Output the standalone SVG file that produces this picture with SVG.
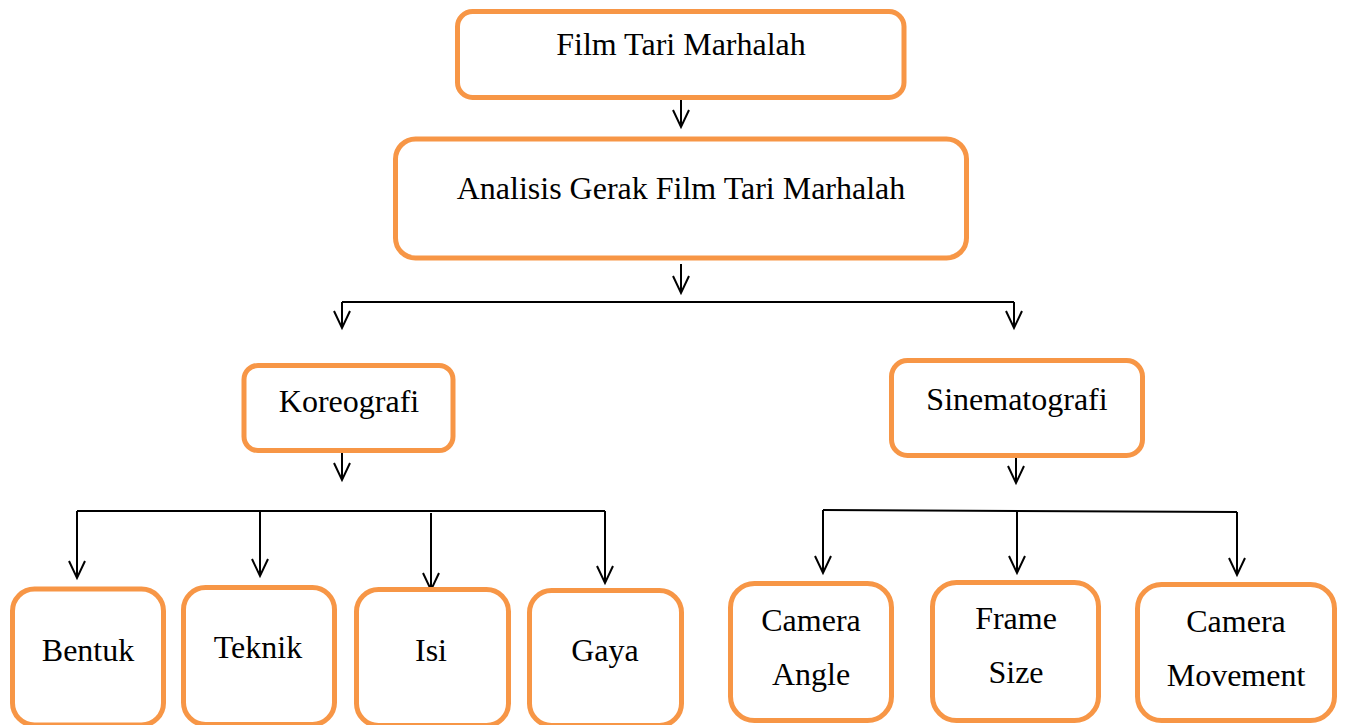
<svg xmlns="http://www.w3.org/2000/svg" width="1345" height="725" viewBox="0 0 1345 725">
<style>
.box{fill:#ffffff;stroke:#F79646;stroke-width:5}
.lbl{font-family:"Liberation Serif","Times New Roman",serif;font-size:32px;fill:#000;text-anchor:middle}
.con{fill:none;stroke:#000;stroke-width:2}
.arr{fill:none;stroke:#000;stroke-width:2;marker-end:url(#ah)}
</style>
<defs>
<marker id="ah" viewBox="-20 -10 22 20" refX="0" refY="0" markerWidth="22" markerHeight="20" markerUnits="userSpaceOnUse" orient="auto" overflow="visible">
<path d="M-17,-8 L0,0 L-17,8" fill="none" stroke="#000" stroke-width="2"/>
</marker>
</defs>
<rect width="1345" height="725" fill="#fff"/>
<g id="connectors">
<path class="arr" d="M681,100 V127"/>
<path class="arr" d="M681,264 V293"/>
<path class="con" d="M342,302 H1014"/>
<path class="arr" d="M342,302 V328"/>
<path class="arr" d="M1014,302 V328"/>
<path class="arr" d="M342,453 V480"/>
<path class="con" d="M77,511 H605"/>
<path class="arr" d="M77,511 V578"/>
<path class="arr" d="M260,511 V576"/>
<path class="arr" d="M431,513 V590"/>
<path class="arr" d="M605,511 V583"/>
<path class="arr" d="M1016,458 V483"/>
<path class="con" d="M823,510 L1237,512"/>
<path class="arr" d="M823,510 V573"/>
<path class="arr" d="M1017,511 V573"/>
<path class="arr" d="M1237,512 V575"/>
</g>
<g id="film">
<rect class="box" x="457.5" y="11.5" width="446.5" height="86" rx="15"/>
<text class="lbl" x="681" y="55">Film Tari Marhalah</text>
</g>
<g id="analisis">
<rect class="box" x="395.5" y="139" width="571" height="119" rx="20"/>
<text class="lbl" x="681" y="199">Analisis Gerak Film Tari Marhalah</text>
</g>
<g id="koreografi">
<rect class="box" x="244" y="365.5" width="209" height="85" rx="14"/>
<text class="lbl" x="349" y="412">Koreografi</text>
</g>
<g id="sinematografi">
<rect class="box" x="891.5" y="360.5" width="251" height="95" rx="16"/>
<text class="lbl" x="1017" y="410">Sinematografi</text>
</g>
<g id="bentuk">
<rect class="box" x="12.5" y="589" width="151" height="136" rx="22"/>
<text class="lbl" x="88" y="661">Bentuk</text>
</g>
<g id="teknik">
<rect class="box" x="183.5" y="587.5" width="151" height="137" rx="22"/>
<text class="lbl" x="258" y="658">Teknik</text>
</g>
<g id="isi">
<rect class="box" x="356.5" y="589.5" width="152" height="136" rx="22"/>
<text class="lbl" x="431" y="661">Isi</text>
</g>
<g id="gaya">
<rect class="box" x="529.5" y="590.5" width="152" height="135" rx="22"/>
<text class="lbl" x="605" y="661">Gaya</text>
</g>
<g id="camera-angle">
<rect class="box" x="730.5" y="583.5" width="161" height="137" rx="24"/>
<text class="lbl" x="811" y="631">Camera</text>
<text class="lbl" x="811" y="685">Angle</text>
</g>
<g id="frame-size">
<rect class="box" x="932.5" y="582.5" width="166" height="138" rx="24"/>
<text class="lbl" x="1016" y="629">Frame</text>
<text class="lbl" x="1016" y="683">Size</text>
</g>
<g id="camera-movement">
<rect class="box" x="1137.5" y="584.5" width="197" height="136" rx="24"/>
<text class="lbl" x="1236" y="632">Camera</text>
<text class="lbl" x="1236" y="686">Movement</text>
</g>
</svg>
